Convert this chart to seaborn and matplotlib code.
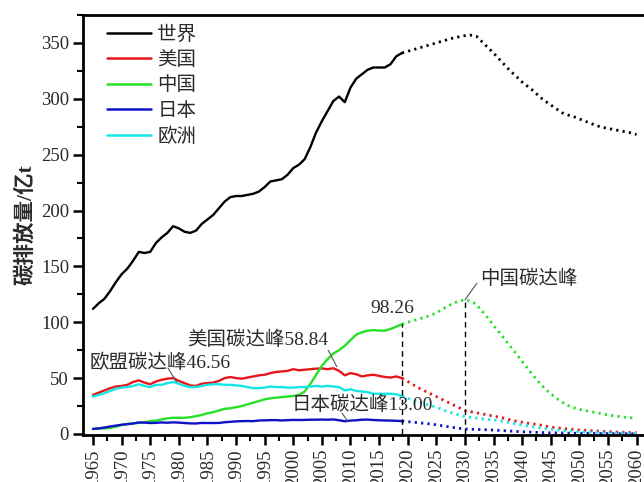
import numpy as np
import pandas as pd
import matplotlib
matplotlib.use("Agg")
import matplotlib.pyplot as plt
from matplotlib.ticker import MultipleLocator
from matplotlib.lines import Line2D
import seaborn as sns

# ---- data (亿t) ----
hist_years = list(range(1965, 2020))
proj_years = list(range(2019, 2061))

world_hist = [112, 117, 121, 128, 136, 143, 148, 155, 163, 162,
              163, 171, 176, 180, 186, 184, 181, 180, 182, 188,
              192, 196, 202, 208, 212, 213, 213, 214, 215, 217,
              221, 226, 227, 228, 232, 238, 241, 246, 257, 270,
              280, 289, 298, 302, 297, 310, 318, 322, 326, 328,
              328, 328, 331, 338, 341]
usa_hist = [35, 37, 39, 41, 42.5, 43, 44, 46.5, 48, 46,
            44.5, 47, 48.5, 49.5, 50, 47.5, 45.5, 43.5, 43, 45,
            45.5, 46, 47.5, 50, 51, 50, 49.5, 50.5, 51.5, 52.5,
            53, 54.5, 55.5, 56, 56.5, 58, 57, 57.5, 58, 58.5,
            58.7, 58, 58.84, 56.5, 52.5, 54.5, 53.5, 51.5, 52.5, 53,
            52, 51, 50.5, 51.5, 50]
china_hist = [4.5, 5, 5, 5.5, 6.5, 8, 9, 9.5, 10, 10.5,
              11.5, 12, 13, 14, 14.5, 14.5, 14.5, 15, 16, 17,
              18.5, 19.5, 21, 22.5, 23, 24, 25, 26.5, 28, 29.5,
              31, 32, 32.5, 33, 33.5, 34, 35, 38, 45, 53,
              61, 67, 72, 75, 79, 84, 89, 91, 92.5, 93,
              92.5, 92.5, 94, 96, 98.26]
japan_hist = [4.5, 5, 5.8, 6.7, 7.5, 8.3, 8.8, 9.4, 10.3, 10.2,
              9.8, 10, 10.3, 10.1, 10.4, 10.2, 9.8, 9.5, 9.4, 9.9,
              9.8, 9.8, 9.9, 10.5, 10.9, 11.3, 11.5, 11.6, 11.5, 12.1,
              12.2, 12.4, 12.4, 12.1, 12.4, 12.6, 12.5, 12.6, 12.8, 12.8,
              12.9, 12.8, 13.0, 12.3, 11.4, 12.0, 12.3, 12.8, 12.9, 12.5,
              12.3, 12.1, 12.0, 11.8, 11.5]
europe_hist = [33.5, 35, 36.5, 38.5, 40.5, 41.5, 42, 43, 44.5, 43,
               42, 44, 44, 45.5, 46.56, 45, 43, 42, 42, 43,
               44, 44.5, 44.5, 44, 44, 43.5, 43, 42, 41, 41,
               41.5, 42.5, 42, 42, 41.5, 41.5, 42, 42, 42.5, 43,
               42.5, 43, 42.5, 42, 39, 40, 38.5, 38, 37.5, 36,
               36, 36, 36, 35.5, 34]

world_proj = [341, 342.5, 344, 345.5, 347, 348.5, 350, 351.5, 353, 354.5,
              355.5, 356.5, 357, 356, 351, 346, 341, 335.5, 330, 324.5,
              320, 315, 311, 307, 302, 298, 294.5, 291, 287.5, 285.5,
              284, 282, 280, 278, 276, 274.5, 273.5, 272.5, 271.5, 270.5,
              269.5, 268]
usa_proj = [50, 47, 44, 41, 38.5, 36, 33.5, 31, 28.5, 26,
            23.5, 21, 20, 19, 18, 17, 16, 15, 14, 12.5,
            11.5, 10.5, 9.7, 9, 8.2, 7.2, 6.2, 5.6, 5, 4.5,
            4, 3.6, 3.3, 3, 2.7, 2.4, 2.1, 1.9, 1.7, 1.5,
            1.3, 1.1]
china_proj = [98.26, 100, 101.5, 103, 104.5, 106, 108.5, 111.5, 114.5, 117,
              119, 120, 119, 116, 110, 104, 97, 91, 84.5, 78,
              71.5, 65, 58.5, 52, 46, 40.5, 36, 32, 28.5, 25.5,
              23.5, 22, 21, 20, 19, 18, 17, 16.3, 15.6, 15,
              14.5, 14]
japan_proj = [11.5, 11, 10.5, 10, 9.5, 9, 8.2, 7.4, 6.6, 5.8,
              5.1, 4.5, 4.3, 4.1, 3.9, 3.7, 3.5, 3.2, 2.9, 2.6,
              2.3, 2, 1.8, 1.6, 1.4, 1.2, 1.1, 1.0, 0.9, 0.8,
              0.7, 0.6, 0.55, 0.5, 0.45, 0.4, 0.35, 0.3, 0.3, 0.25,
              0.2, 0.2]
europe_proj = [34, 32, 30, 28.5, 27, 25.5, 24, 22, 20, 18.5,
               17, 15.5, 15, 14.3, 13.7, 13, 12.5, 12, 11, 10,
               9, 8, 7.2, 6.4, 5.6, 4.8, 4.2, 3.7, 3.2, 2.8,
               2.4, 2.1, 1.9, 1.7, 1.5, 1.3, 1.1, 1.0, 0.9, 0.8,
               0.7, 0.6]

regions = ["世界", "美国", "中国", "日本", "欧洲"]
colors = ["#000000", "#e8161b", "#26e026", "#1010c8", "#14e6e6"]
hist_series = [world_hist, usa_hist, china_hist, japan_hist, europe_hist]
proj_series = [world_proj, usa_proj, china_proj, japan_proj, europe_proj]

hist_df = pd.concat([pd.DataFrame({"年份": hist_years, "排放": v, "地区": r})
                     for r, v in zip(regions, hist_series)], ignore_index=True)
proj_df = pd.concat([pd.DataFrame({"年份": proj_years, "排放": v, "地区": r})
                     for r, v in zip(regions, proj_series)], ignore_index=True)

# ---- style ----
sns.set_theme(style="ticks")
plt.rcParams["font.family"] = ["Liberation Serif", "Noto Sans CJK SC", "DejaVu Sans"]
plt.rcParams["axes.unicode_minus"] = False
FAM = ["Liberation Serif", "Noto Sans CJK SC"]
TXT = "#2a2a2a"

fig = plt.figure(figsize=(6.44, 4.82), dpi=100)
ax = fig.add_axes([83 / 644, 47 / 482, 565 / 644, 420 / 482])

palette = dict(zip(regions, colors))
sns.lineplot(data=hist_df, x="年份", y="排放", hue="地区", hue_order=regions,
             palette=palette, linewidth=1.7, ax=ax, legend=False)
n_before = len(ax.lines)
sns.lineplot(data=proj_df, x="年份", y="排放", hue="地区", hue_order=regions,
             palette=palette, linewidth=2.0, ax=ax, legend=False)
# projected part is dotted
for line in ax.lines[n_before:]:
    line.set_linestyle((0, (0.8, 1.5)))

# peak guides: vertical dashed lines
china_peak_idx = int(np.argmax(china_proj))
ax.vlines(hist_years[-1], 0, china_hist[-1], colors="black",
          linestyles=(0, (4, 3)), linewidth=1.0)
ax.vlines(proj_years[china_peak_idx], 0, china_proj[china_peak_idx],
          colors="black", linestyles=(0, (4, 3)), linewidth=1.0)

# annotations
fs = 14
ax.text(2017.3, 112.5, f"{china_hist[-1]:.2f}", fontsize=fs, family=FAM,
        color=TXT, ha="center", va="center")
ax.text(2032.6, 139, "中国碳达峰", fontsize=fs, family=FAM,
        color=TXT, ha="left", va="center")
us_peak_idx = int(np.argmax(usa_hist))
ax.text(1981.4, 84.5, f"美国碳达峰{usa_hist[us_peak_idx]:.2f}", fontsize=fs,
        family=FAM, color=TXT, ha="left", va="center")
eu_peak_idx = int(np.argmax(europe_hist))
ax.text(1964.4, 64, f"欧盟碳达峰{europe_hist[eu_peak_idx]:.2f}", fontsize=fs,
        family=FAM, color=TXT, ha="left", va="center")
jp_peak_idx = int(np.argmax(japan_hist))
ax.text(1999.7, 26, f"日本碳达峰{japan_hist[jp_peak_idx]:.2f}", fontsize=fs,
        family=FAM, color=TXT, ha="left", va="center")

lead = dict(arrowstyle="-", color="#555555", lw=0.8, shrinkA=0, shrinkB=0)
ax.annotate("", xy=(proj_years[china_peak_idx], china_proj[china_peak_idx]),
            xytext=(2032.1, 135), arrowprops=lead)
ax.annotate("", xy=(hist_years[us_peak_idx] + 0.6, usa_hist[us_peak_idx] + 1.5),
            xytext=(2006.1, 75), arrowprops=lead)
ax.annotate("", xy=(hist_years[eu_peak_idx] + 0.6, europe_hist[eu_peak_idx]),
            xytext=(1978.1, 59), arrowprops=lead)
ax.annotate("", xy=(2009.6, japan_hist[2009 - 1965] - 0.5),
            xytext=(2008.5, 18.8), arrowprops=lead)

# axes
ax.set_xlim(1963.25, 2062)
ax.set_ylim(-0.9, 375)
ax.xaxis.set_minor_locator(MultipleLocator(2.5))
ax.yaxis.set_major_locator(MultipleLocator(50))
ax.yaxis.set_minor_locator(MultipleLocator(25))
ax.set_xticks(list(range(1965, 2061, 5)))
ax.set_xticklabels([str(y) for y in range(1965, 2061, 5)], rotation=90,
                   fontsize=13.5, family="Liberation Serif")
for lab in ax.get_yticklabels():
    lab.set_fontsize(13.5)
    lab.set_family("Liberation Serif")
ax.tick_params(which="major", direction="out", length=7, width=1.8, color="black")
ax.tick_params(which="minor", direction="out", length=4.5, width=1.5, color="black")
ax.tick_params(axis="both", labelcolor=TXT, pad=3)
ax.set_xlabel("")
ax.set_ylabel("碳排放量/亿t", fontsize=15.5, family=FAM, fontweight="bold",
              color=TXT, labelpad=3)

for side in ("left", "bottom", "top"):
    ax.spines[side].set_linewidth(2.0)
    ax.spines[side].set_color("black")
ax.spines["right"].set_visible(False)
ax.set_facecolor("white")
fig.patch.set_facecolor("white")

# legend with solid handles
handles = [Line2D([], [], color=c, linewidth=1.8) for c in colors]
leg = ax.legend(handles, regions, loc="upper left",
                bbox_to_anchor=(0.042, 0.975), frameon=False, borderpad=0,
                borderaxespad=0, handlelength=2.3, handletextpad=0.3,
                labelspacing=0.38, prop={"family": FAM, "size": 14})
for t in leg.get_texts():
    t.set_color(TXT)

fig.savefig("out.png", dpi=100, facecolor="white")
